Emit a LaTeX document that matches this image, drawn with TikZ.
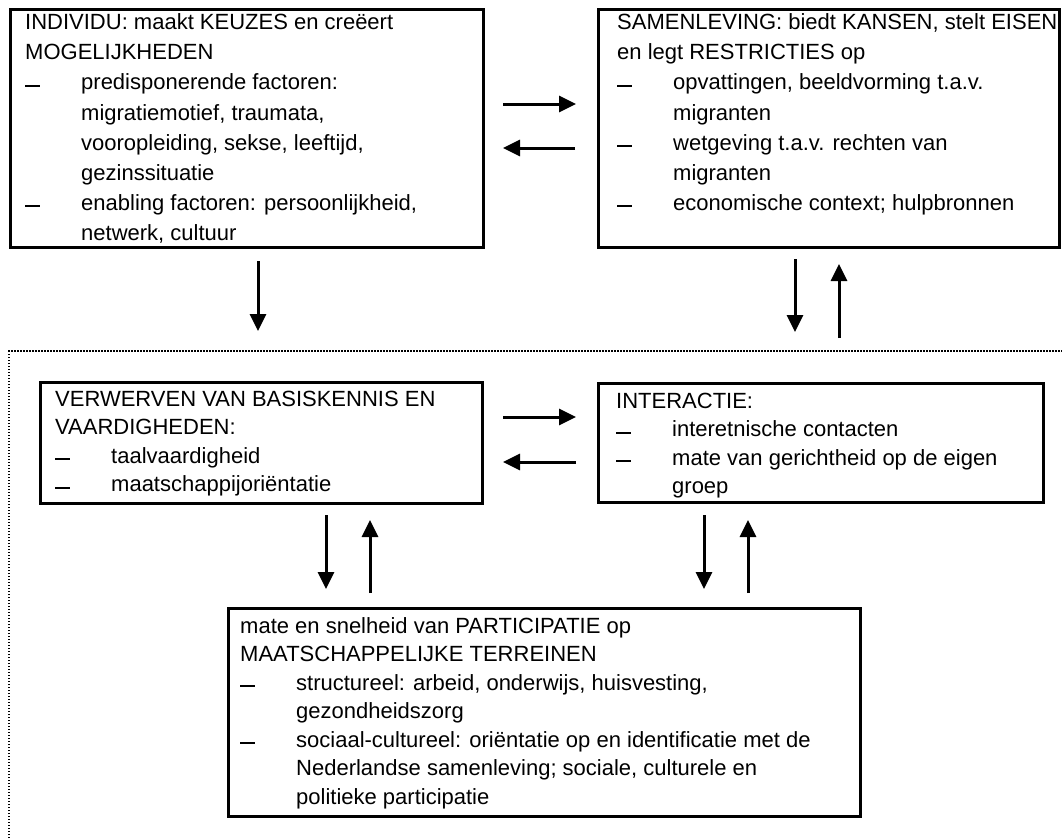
\documentclass[tikz,border=0pt]{standalone}
\usepackage{fontspec}
\setmainfont{Liberation Sans}
\usetikzlibrary{arrows.meta}
\newcommand\itemdash{\makebox[56pt][l]{\rule[3pt]{15pt}{2pt}}}
\newcommand\itemind{\hspace*{56pt}}
\newcommand\firststrut{\rule{0pt}{18pt}}
\begin{document}
\begin{tikzpicture}[x=1pt,y=-1pt,
  box/.style={draw, line width=3pt, anchor=north west, inner sep=0pt, outer sep=0pt},
  txt/.style={anchor=north west, inner sep=0pt, align=left, font=\fontsize{22}{28.5}\selectfont},
  txtwide/.style={txt, font=\fontsize{22}{30.1}\selectfont},
  arr/.style={line width=3pt, -{Triangle[length=17pt,width=16pt]}},
  dots/.style={line width=1.5pt, dash pattern=on 1.5pt off 1.5pt}]
\useasboundingbox (0,0) rectangle (1062,838);

% dotted frame
\coordinate (fbl) at (9,838);
\coordinate (ftl) at (9,351);
\coordinate (ftr) at (1062,351);
\draw[dots] (fbl) -- (ftl) -- (ftr);

% boxes
\node[box, minimum width=473pt, minimum height=238pt] (b1) at (10,9) {};
\node[box, minimum width=461pt, minimum height=238pt] (b2) at (598,9) {};
\node[box, minimum width=442pt, minimum height=121pt] (b3) at (40,382) {};
\node[box, minimum width=445pt, minimum height=119pt] (b4) at (598,383) {};
\node[box, minimum width=632pt, minimum height=208pt] (b5) at (228,608) {};

% texts
\node[txtwide] (t1) at (25,11.5) {\firststrut INDIVIDU: maakt KEUZES en creëert\\
MOGELIJKHEDEN\\
\itemdash predisponerende factoren:\\
\itemind migratiemotief, traumata,\\
\itemind vooropleiding, sekse, leeftijd,\\
\itemind gezinssituatie\\
\itemdash enabling factoren: persoonlijkheid,\\
\itemind netwerk, cultuur};

\node[txtwide] (t2) at (617,11.5) {\firststrut SAMENLEVING: biedt KANSEN, stelt EISEN\\
en legt RESTRICTIES op\\
\itemdash opvattingen, beeldvorming t.a.v.\\
\itemind migranten\\
\itemdash wetgeving t.a.v. rechten van\\
\itemind migranten\\
\itemdash economische context; hulpbronnen};

\node[txt] (t3) at (55,388) {\firststrut VERWERVEN VAN BASISKENNIS EN\\
VAARDIGHEDEN:\\
\itemdash taalvaardigheid\\
\itemdash maatschappijoriëntatie};

\node[txt] (t4) at (616,390) {\firststrut INTERACTIE:\\
\itemdash interetnische contacten\\
\itemdash mate van gerichtheid op de eigen\\
\itemind groep};

\node[txt] (t5) at (240,615) {\firststrut mate en snelheid van PARTICIPATIE op\\
MAATSCHAPPELIJKE TERREINEN\\
\itemdash structureel: arbeid, onderwijs, huisvesting,\\
\itemind gezondheidszorg\\
\itemdash sociaal-cultureel: oriëntatie op en identificatie met de\\
\itemind Nederlandse samenleving; sociale, culturele en\\
\itemind politieke participatie};

% arrow end points
\coordinate (a1s) at (503,104); \coordinate (a1e) at (576,104);
\coordinate (a2s) at (575,148); \coordinate (a2e) at (503,148);
\coordinate (a3s) at (258,261); \coordinate (a3e) at (258,331);
\coordinate (a4s) at (795,259); \coordinate (a4e) at (795,332);
\coordinate (a5s) at (839,338); \coordinate (a5e) at (839,264);
\coordinate (a6s) at (503,417); \coordinate (a6e) at (576,417);
\coordinate (a7s) at (576,462); \coordinate (a7e) at (503,462);
\coordinate (a8s) at (326,515); \coordinate (a8e) at (326,589);
\coordinate (a9s) at (370,593); \coordinate (a9e) at (370,520);
\coordinate (a10s) at (704,515); \coordinate (a10e) at (704,589);
\coordinate (a11s) at (748,593); \coordinate (a11e) at (748,520);

\foreach \i in {1,...,11} {\draw[arr] (a\i s) -- (a\i e);}
\end{tikzpicture}
\end{document}
